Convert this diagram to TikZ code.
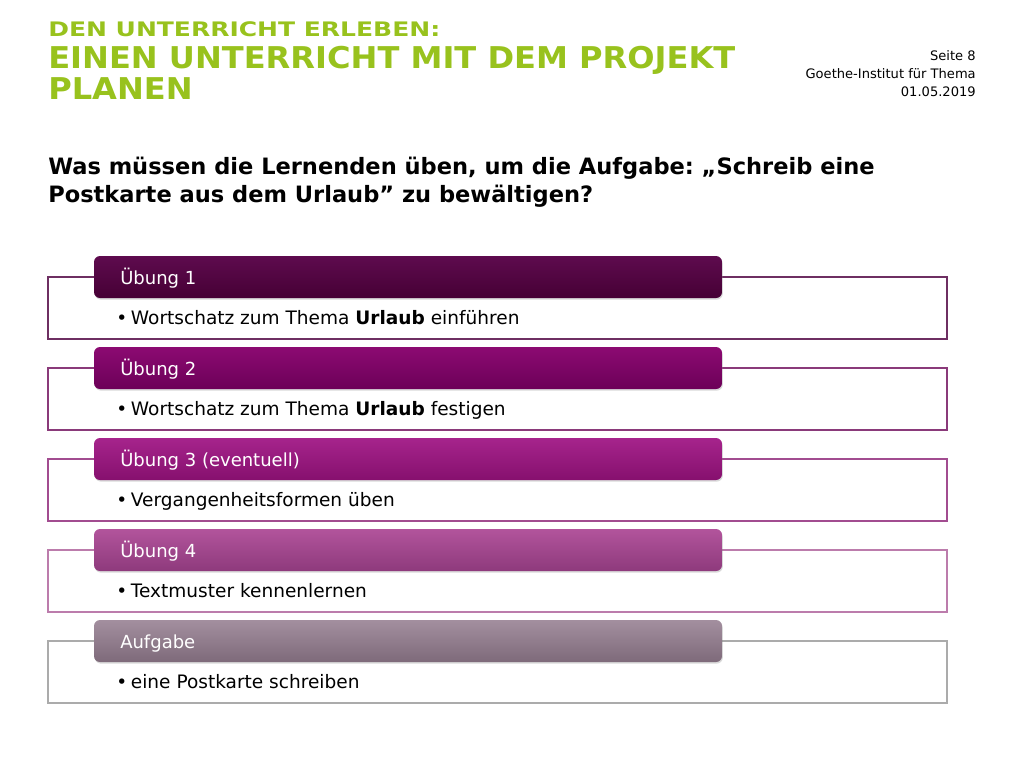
\documentclass[tikz,border=0pt]{standalone}
\usepackage{fontspec}
\setmainfont{DejaVu Sans}
\newfontfamily\titleAfont[FakeStretch=1.25]{DejaVu Sans}
\newfontfamily\titleBfont[FakeStretch=1.07]{DejaVu Sans}
\usetikzlibrary{shadows}

\definecolor{titlegreen}{HTML}{98C21D}
\definecolor{hdtop1}{HTML}{5E0B4E}
\definecolor{hdbot1}{HTML}{460035}
\definecolor{brd1}{HTML}{6E2F62}
\definecolor{hdtop2}{HTML}{8C0A72}
\definecolor{hdbot2}{HTML}{6C0058}
\definecolor{brd2}{HTML}{8A3A7A}
\definecolor{hdtop3}{HTML}{A6248C}
\definecolor{hdbot3}{HTML}{86106E}
\definecolor{brd3}{HTML}{A24C90}
\definecolor{hdtop4}{HTML}{B2549C}
\definecolor{hdbot4}{HTML}{8E3A7C}
\definecolor{brd4}{HTML}{BC7CAC}
\definecolor{hdtop5}{HTML}{A38F9F}
\definecolor{hdbot5}{HTML}{7E6A7A}
\definecolor{brd5}{HTML}{ABABAB}

\tikzset{
  txt/.style={anchor=base west, inner sep=0pt},
  hdlabel/.style={txt, text=white, font=\fontsize{13.5}{16}\selectfont},
  bultext/.style={txt, font=\fontsize{13.9}{16}\selectfont},
  hdbox/.style={rounded corners=4.5pt, drop shadow={opacity=0.3, shadow xshift=0.6pt, shadow yshift=-1.2pt}}
}

\begin{document}
\begin{tikzpicture}[x=0.75pt, y=-0.75pt]
  \useasboundingbox (0,0) rectangle (1024,768);

  % title
  \node [txt, text=titlegreen, font=\titleAfont\fontsize{15}{18}\bfseries] (title1) at (48,36) {DEN UNTERRICHT ERLEBEN:};
  \node [txt, text=titlegreen, font=\titleBfont\fontsize{22.5}{26}\bfseries] (title2) at (48,68) {EINEN UNTERRICHT MIT DEM PROJEKT};
  \node [txt, text=titlegreen, font=\titleBfont\fontsize{22.5}{26}\bfseries] (title3) at (48,99.5) {PLANEN};

  % header right
  \node [anchor=base east, inner sep=0pt, font=\fontsize{9.8}{12}\selectfont] (seite) at (976,60) {Seite 8};
  \node [anchor=base east, inner sep=0pt, font=\fontsize{9.8}{12}\selectfont] (inst) at (976,78) {Goethe-Institut für Thema};
  \node [anchor=base east, inner sep=0pt, font=\fontsize{9.8}{12}\selectfont] (datum) at (976,96) {01.05.2019};

  % question
  \node [txt, font=\fontsize{16.9}{20}\bfseries] (frage1) at (48,174) {Was müssen die Lernenden üben, um die Aufgabe:\kern-0.12em{} „Schreib eine};
  \node [txt, font=\fontsize{16.9}{20}\bfseries] (frage2) at (48,202) {Postkarte aus dem Urlaub” zu bewältigen?};

  % rows
  \foreach \i/\lab/\item in {
      1/{Übung 1}/{Wortschatz zum Thema \textbf{Urlaub} einführen},
      2/{Übung 2}/{Wortschatz zum Thema \textbf{Urlaub} festigen},
      3/{Übung 3 (eventuell)}/{Vergangenheitsformen üben},
      4/{Übung 4}/{Textmuster kennenlernen},
      5/{Aufgabe}/{eine Postkarte schreiben}} {
    \pgfmathsetmacro\dy{(\i-1)*91}
    \begin{scope}[shift={(0,\dy)}]
      \draw [brd\i, line width=0.9pt] (48,277) rectangle (947,339);
      \shade [hdbox, top color=hdtop\i, bottom color=hdbot\i] (94,256) rectangle (722,298);
      \node [hdlabel] (lab\i) at (120,284) {\lab};
      \node [bultext] (item\i) at (116,324) {\makebox[11pt][l]{\textbullet}\item};
    \end{scope}
  }
\end{tikzpicture}
\end{document}
